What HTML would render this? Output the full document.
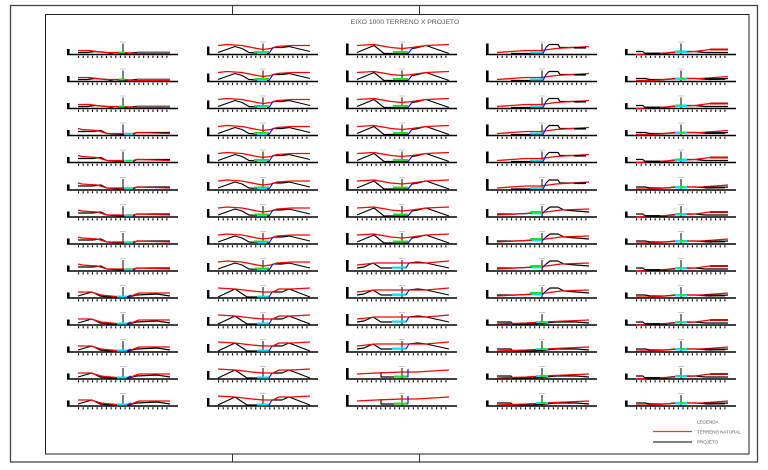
<!DOCTYPE html>
<html><head><meta charset="utf-8"><style>
html,body{margin:0;padding:0;background:#fff;}
svg{display:block;}
polyline{fill:none;stroke-linejoin:round;}
.r{stroke:#ff0000;stroke-width:1.35;}
.k{stroke:#000;stroke-width:1.15;}
.b{stroke:#0000ff;stroke-width:1.1;}
text{font-family:"Liberation Sans",sans-serif;}
</style></head><body>
<svg width="768" height="470" viewBox="0 0 768 470" xmlns="http://www.w3.org/2000/svg">
<defs>
<g id="ax">
<line x1="0" y1="0" x2="111" y2="0" stroke="#000" stroke-width="1.6"/>
<line x1="11" y1="2.3" x2="104" y2="2.3" stroke="#000" stroke-width="2.2" stroke-dasharray="1.1 3.55"/>
<line x1="56" y1="-11" x2="56" y2="0" stroke="#000" stroke-width="1"/>
<line x1="53" y1="-12.5" x2="59" y2="-12.5" stroke="#bbb" stroke-width="0.8"/>
</g>
<g id="a5"><use href="#ax"/><rect x="0" y="-5.5" width="2.6" height="5.5" fill="#000"/></g>
<g id="a8"><use href="#ax"/><rect x="0" y="-8" width="2.4" height="8" fill="#000"/></g>
<g id="a11"><use href="#ax"/><rect x="0" y="-11" width="2.6" height="11" fill="#000"/></g>

<g id="s1a">
<polyline class="k" points="11,-2 20,-2 28,-3 40,-2 48,0 56,-1 70,-2 103,-2"/>
<polyline class="r" points="11,-4 22,-4 30,-3 38,-2 56,-2 70,-1 103,-1"/>
<rect x="70" y="-3" width="33" height="1.5" fill="#666"/>
<rect x="52" y="-3" width="6" height="2" fill="#22dd22"/>
</g>
<g id="s1b">
<polyline class="k" points="11,-4 25,-4 34,-5 40,-2 56,-1 66,-1 70,-3 103,-3"/>
<polyline class="r" points="11,-7 15,-6 30,-5 40,-2 56,-2 66,-2 70,-3 103,-2"/>
<rect x="57" y="-2.5" width="9" height="2" fill="#00e5ff"/>
<rect x="59" y="-2.5" width="5" height="1" fill="#22dd22"/>
</g>
<g id="s1c">
<polyline class="k" points="11,-2 25,-6 33,-2 44,-1 56,-1 62,-1 70,-3 90,-4 103,-2"/>
<polyline class="r" points="11,-6 24,-6 34,-3 44,-2 56,-1 64,-2 72,-5 103,-5"/>
<rect x="50" y="-2.5" width="10" height="2" fill="#00e5ff"/>
<polyline class="b" points="60,-1 64,-3"/>
</g>

<g id="s2a">
<polyline class="k" points="11,-2 28,-8 35,-6 42,-2 62,-1"/>
<polyline class="k" points="66,-7 75,-7 82,-8 103,-3"/>
<polyline class="r" points="11,-9 20,-10 35,-9 50,-6 56,-5 64,-6 70,-8 85,-9 103,-9"/>
<rect x="47" y="-3.5" width="15" height="2" fill="#22dd22"/>
<rect x="50" y="-2" width="10" height="1.5" fill="#00e5ff"/>
<polyline class="b" points="62,-1 66,-7"/>
</g>
<g id="s2b">
<polyline class="k" points="11,-1 28,-9 40,-1 62,-1"/>
<polyline class="k" points="65,-6 75,-6 82,-9 103,-1"/>
<polyline class="r" points="11,-10 28,-9 45,-7 56,-6 66,-6 72,-9 85,-9 103,-10"/>
<rect x="50" y="-2.5" width="12" height="2" fill="#00e5ff"/>
<polyline class="b" points="62,-1 65,-6"/>
</g>

<g id="s3a">
<polyline class="k" points="11,-2 28,-9 38,-1 62,-1"/>
<polyline class="k" points="66,-6 72,-7 80,-9 103,-1"/>
<polyline class="r" points="11,-9 28,-10 45,-7 56,-6 66,-7 80,-9 103,-10"/>
<rect x="47" y="-3.5" width="15" height="2.2" fill="#22dd22"/>
<polyline class="b" points="62,-1 66,-6"/>
</g>
<g id="s3b">
<polyline class="k" points="11,-3 18,-4 27,-8 35,-3 60,-3"/>
<polyline class="k" points="63,-8 72,-9 80,-8 103,-3"/>
<polyline class="r" points="11,-6 30,-8 56,-8 80,-8 103,-10"/>
<rect x="46" y="-4.5" width="14" height="2" fill="#00e5ff"/>
<polyline class="b" points="60,-3 63,-8"/>
</g>
<g id="s3c">
<polyline class="k" points="35,-7 35,-2 62,-2"/>
<polyline class="r" points="11,-5 30,-6 56,-7 70,-7 103,-9"/>
<rect x="48" y="-3.5" width="14" height="2" fill="#22dd22"/>
<polyline class="b" points="62,-2 62,-10"/>
</g>

<g id="s4a">
<polyline class="k" points="25,-1 57,-1"/>
<polyline class="k" points="60,-7 63,-10 72,-10 74,-7 90,-7"/>
<polyline class="r" points="11,-2 25,-3 40,-4 55,-4 70,-6 103,-8"/>
<rect x="44" y="-3" width="13" height="2" fill="#00e5ff"/>
<polyline class="b" points="57,-1 60,-7"/>
<rect x="88" y="-7.5" width="12" height="1.6" fill="#000"/>
</g>
<g id="s4b">
<polyline class="k" points="11,-3 30,-3 50,-4 56,-4"/>
<polyline class="k" points="60,-7 64,-10 72,-10 78,-7 90,-6 103,-5"/>
<polyline class="r" points="11,-2 30,-3 50,-4 60,-5 75,-7 103,-8"/>
<rect x="44" y="-6" width="12" height="2" fill="#22dd22"/>
<rect x="46" y="-4" width="10" height="1.5" fill="#00e5ff"/>
<polyline class="b" points="56,-3 60,-7"/>
</g>
<g id="s4c">
<polyline class="k" points="11,-3 25,-3 27,-1 45,-1 60,-2 70,-3 90,-3 103,-2"/>
<polyline class="r" points="11,-1 40,-2 56,-3 80,-4 103,-5"/>
<rect x="50" y="-4" width="12" height="2" fill="#00e5ff"/>
<rect x="54" y="-4" width="6" height="2" fill="#22dd22"/>
</g>

<g id="s5a">
<polyline class="k" points="11,-3 18,-3 20,-1 40,-1 45,-2 56,-3 70,-3 80,-2 95,-2 103,-2"/>
<polyline class="r" points="11,0 30,-1 50,-2 70,-3 85,-5 103,-5"/>
<polyline points="85,-5 103,-5" stroke="#e00000" stroke-width="2"/>
<polyline points="20,-1 35,-1" stroke="#000" stroke-width="1.8"/>
<rect x="50" y="-4" width="12" height="2.5" fill="#00e5ff"/>
<rect x="52" y="-4" width="5" height="1.5" fill="#22dd22"/>
</g>
<g id="s5b">
<polyline class="k" points="11,-3 20,-3 25,-2 40,-2 50,-3 70,-3 85,-2 103,-3"/>
<polyline class="r" points="11,-1 25,-1 40,-2 56,-3 75,-3 90,-4 103,-5"/>
<polyline points="80,-2.5 100,-2.5" stroke="#000" stroke-width="1.8"/>
<rect x="50" y="-4" width="12" height="2.5" fill="#00e5ff"/>
<rect x="55" y="-4" width="5" height="1.5" fill="#22dd22"/>
</g>

<g id="c1a"><use href="#a5"/><use href="#s1a"/></g>
<g id="c1b"><use href="#a5"/><use href="#s1b"/></g>
<g id="c1c"><use href="#a5"/><use href="#s1c"/></g>
<g id="c2a"><use href="#a8"/><use href="#s2a"/></g>
<g id="c2b"><use href="#a8"/><use href="#s2b"/></g>
<g id="c3a"><use href="#a11"/><use href="#s3a"/></g>
<g id="c3b"><use href="#a11"/><use href="#s3b"/></g>
<g id="c3c"><use href="#a11"/><use href="#s3c"/></g>
<g id="c4a"><use href="#a11"/><use href="#s4a"/></g>
<g id="c4b"><use href="#a8"/><use href="#s4b"/></g>
<g id="c4c"><use href="#a5"/><use href="#s4c"/></g>
<g id="c5a"><use href="#a5"/><use href="#s5a"/></g>
<g id="c5b"><use href="#a5"/><use href="#s5b"/></g>
</defs>

<!-- frames -->
<rect x="10.5" y="5.5" width="747" height="456.5" fill="none" stroke="#444" stroke-width="1.3"/>
<rect x="45.5" y="14.5" width="703.5" height="439.5" fill="none" stroke="#222" stroke-width="1"/>
<line x1="232.5" y1="5.5" x2="232.5" y2="14.5" stroke="#333" stroke-width="1"/>
<line x1="419.5" y1="5.5" x2="419.5" y2="14.5" stroke="#333" stroke-width="1"/>
<line x1="232.5" y1="454" x2="232.5" y2="462" stroke="#333" stroke-width="1"/>
<line x1="419.5" y1="454" x2="419.5" y2="462" stroke="#333" stroke-width="1"/>

<text x="405" y="24" font-size="6.8" fill="#555" text-anchor="middle">EIXO 1000 TERRENO X PROJETO</text>

<!-- column 1 -->
<use href="#c1a" x="67" y="54.5"/>
<use href="#c1a" x="67" y="81.5"/>
<use href="#c1a" x="67" y="108.5"/>
<use href="#c1b" x="67" y="135.5"/>
<use href="#c1b" x="67" y="162.5"/>
<use href="#c1b" x="67" y="190"/>
<use href="#c1b" x="67" y="217"/>
<use href="#c1b" x="67" y="244"/>
<use href="#c1b" x="67" y="271"/>
<use href="#c1c" x="67" y="298"/>
<use href="#c1c" x="67" y="325"/>
<use href="#c1c" x="67" y="352"/>
<use href="#c1c" x="67" y="379"/>
<use href="#c1c" x="67" y="406"/>

<!-- column 2 -->
<use href="#c2a" x="207" y="54.5"/>
<use href="#c2a" x="207" y="81.5"/>
<use href="#c2a" x="207" y="108.5"/>
<use href="#c2a" x="207" y="135.5"/>
<use href="#c2a" x="207" y="162.5"/>
<use href="#c2a" x="207" y="190"/>
<use href="#c2a" x="207" y="217"/>
<use href="#c2a" x="207" y="244"/>
<use href="#c2a" x="207" y="271"/>
<use href="#c2b" x="207" y="298"/>
<use href="#c2b" x="207" y="325"/>
<use href="#c2b" x="207" y="352"/>
<use href="#c2b" x="207" y="379"/>
<use href="#c2b" x="207" y="406"/>

<!-- column 3 -->
<use href="#c3a" x="346" y="54.5"/>
<use href="#c3a" x="346" y="81.5"/>
<use href="#c3a" x="346" y="108.5"/>
<use href="#c3a" x="346" y="135.5"/>
<use href="#c3a" x="346" y="162.5"/>
<use href="#c3a" x="346" y="190"/>
<use href="#c3a" x="346" y="217"/>
<use href="#c3a" x="346" y="244"/>
<use href="#c3b" x="346" y="271"/>
<use href="#c3b" x="346" y="298"/>
<use href="#c3b" x="346" y="325"/>
<use href="#c3b" x="346" y="352"/>
<use href="#c3c" x="346" y="379"/>
<use href="#c3c" x="346" y="406"/>

<!-- column 4 -->
<use href="#c4a" x="486" y="54.5"/>
<use href="#c4a" x="486" y="81.5"/>
<use href="#c4a" x="486" y="108.5"/>
<use href="#c4a" x="486" y="135.5"/>
<use href="#c4a" x="486" y="162.5"/>
<use href="#c4a" x="486" y="190"/>
<use href="#c4b" x="486" y="217"/>
<use href="#c4b" x="486" y="244"/>
<use href="#c4b" x="486" y="271"/>
<use href="#c4b" x="486" y="298"/>
<use href="#c4c" x="486" y="325"/>
<use href="#c4c" x="486" y="352"/>
<use href="#c4c" x="486" y="379"/>
<use href="#c4c" x="486" y="406"/>

<!-- column 5 -->
<use href="#c5a" x="625" y="54.5"/>
<use href="#c5b" x="625" y="81.5"/>
<use href="#c5a" x="625" y="108.5"/>
<use href="#c5b" x="625" y="135.5"/>
<use href="#c5a" x="625" y="162.5"/>
<use href="#c5b" x="625" y="190"/>
<use href="#c5a" x="625" y="217"/>
<use href="#c5b" x="625" y="244"/>
<use href="#c5a" x="625" y="271"/>
<use href="#c5b" x="625" y="298"/>
<use href="#c5a" x="625" y="325"/>
<use href="#c5b" x="625" y="352"/>
<use href="#c5a" x="625" y="379"/>
<use href="#c5b" x="625" y="406"/>

<!-- legend -->
<text x="697" y="423.5" font-size="4.5" fill="#555">LEGENDA</text>
<line x1="653" y1="431.5" x2="692" y2="431.5" stroke="#ff3333" stroke-width="1.3"/>
<text x="697" y="433.5" font-size="4.5" fill="#555">TERRENO NATURAL</text>
<line x1="653" y1="442" x2="692" y2="442" stroke="#000" stroke-width="1.1"/>
<text x="697" y="443.5" font-size="4.5" fill="#555">PROJETO</text>
</svg>
</body></html>
